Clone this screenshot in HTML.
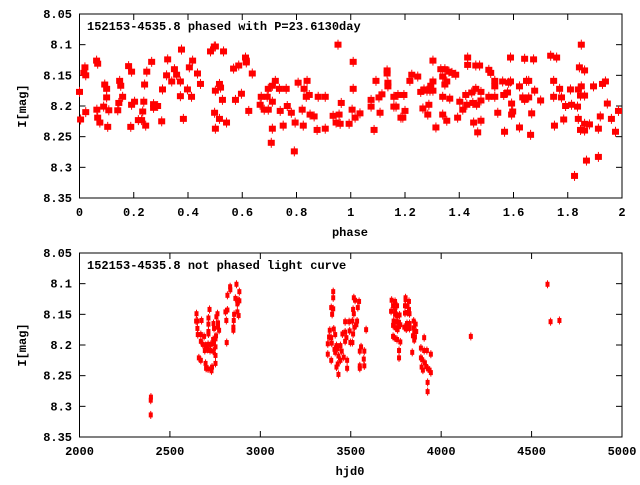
<!DOCTYPE html>
<html><head><meta charset="utf-8"><style>
body{margin:0;background:#fff}
svg text{font-family:"Liberation Mono","DejaVu Sans Mono",monospace;font-weight:bold;font-size:12px;fill:#000}
</style></head><body>
<svg id="chart" width="640" height="480" viewBox="0 0 640 480" xmlns="http://www.w3.org/2000/svg">
<rect width="640" height="480" fill="#fff"/>
<g id="top"></g>
<g id="bot"></g>
</svg>
<script>
const phaseX=[0,0.004,0.016,0.02,0.023,0.023,0.063,0.067,0.067,0.075,0.064,0.093,0.1,0.1,0.089,0.108,0.104,0.141,0.145,0.148,0.152,0.159,0.181,0.192,0.192,0.203,0.189,0.217,0.229,0.233,0.237,0.244,0.24,0.248,0.266,0.273,0.273,0.288,0.303,0.306,0.321,0.325,0.34,0.35,0.358,0.372,0.376,0.372,0.383,0.398,0.413,0.405,0.417,0.435,0.446,0.483,0.497,
0.501,0.531,0.568,0.587,0.612,0.615,0.615,0.637,0.501,0.516,0.52,0.498,0.501,0.516,0.542,0.527,0.575,0.597,0.624,0.666,0.67,0.681,0.696,0.692,0.696,0.711,0.711,0.722,0.711,0.707,0.737,0.762,0.74,0.751,0.766,0.781,0.795,0.792,0.806,0.839,0.828,0.821,0.825,0.836,0.847,0.85,0.865,0.876,0.906,0.88,0.906,0.935,0.957,0.946,0.961,0.965,0.953,0.994,
1.009,1.009,1.005,1.016,1.034,1.075,1.075,1.093,1.108,1.086,1.104,1.115,1.134,1.134,1.137,1.137,1.159,1.174,1.196,1.159,1.167,1.2,1.185,1.192,1.218,1.225,1.247,1.258,1.27,1.281,1.292,1.303,1.295,1.303,1.303,1.288,1.266,1.284,1.314,1.332,1.347,1.362,1.373,1.387,1.339,1.354,1.347,1.339,1.365,1.339,1.354,1.402,1.413,1.394,1.428,1.45,1.464,1.424,1.446,1.461,1.48,1.431,1.431,1.461,1.475,1.48,1.453,1.48,1.468,
1.509,1.516,1.509,1.531,1.531,1.531,1.542,1.567,1.56,1.582,1.589,1.564,1.578,1.593,1.597,1.593,1.589,1.622,1.634,1.641,1.656,1.622,1.641,1.674,1.648,1.656,1.678,1.667,1.663,1.7,1.737,1.759,1.748,1.748,1.77,1.777,1.751,1.785,1.792,1.814,1.836,1.81,1.839,1.85,1.843,1.862,1.85,1.847,1.862,1.839,1.847,1.862,1.862,1.88,1.825,1.869,1.913,1.913,1.92,1.895,1.928,1.939,1.946,1.961,1.976,1.987];
const phaseMag=[8.177,8.222,8.146,8.137,8.15,8.21,8.126,8.131,8.219,8.227,8.206,8.165,8.172,8.186,8.201,8.207,8.234,8.207,8.195,8.159,8.167,8.185,8.135,8.144,8.198,8.193,8.234,8.223,8.223,8.209,8.193,8.232,8.165,8.144,8.128,8.197,8.203,8.2,8.225,8.173,8.15,8.124,8.16,8.14,8.149,8.16,8.108,8.184,8.221,8.173,8.185,8.137,8.126,8.147,8.164,8.111,8.103,
8.103,8.111,8.139,8.134,8.121,8.126,8.129,8.147,8.175,8.164,8.17,8.211,8.237,8.221,8.227,8.19,8.19,8.18,8.208,8.198,8.185,8.206,8.206,8.185,8.172,8.193,8.167,8.159,8.237,8.26,8.172,8.172,8.208,8.232,8.2,8.211,8.227,8.274,8.162,8.159,8.172,8.206,8.232,8.185,8.182,8.214,8.217,8.239,8.237,8.185,8.185,8.216,8.214,8.227,8.229,8.195,8.1,8.229,
8.128,8.172,8.206,8.219,8.212,8.19,8.201,8.159,8.211,8.239,8.186,8.181,8.142,8.147,8.162,8.168,8.185,8.182,8.182,8.201,8.201,8.208,8.219,8.219,8.159,8.149,8.152,8.177,8.173,8.175,8.175,8.175,8.167,8.16,8.126,8.198,8.204,8.214,8.235,8.14,8.14,8.144,8.146,8.149,8.152,8.16,8.165,8.185,8.188,8.214,8.224,8.193,8.206,8.219,8.198,8.195,8.198,8.182,8.178,8.172,8.177,8.121,8.133,8.134,8.134,8.191,8.227,8.224,8.243,
8.141,8.146,8.185,8.185,8.159,8.168,8.211,8.242,8.16,8.162,8.16,8.182,8.178,8.196,8.209,8.214,8.121,8.168,8.186,8.19,8.186,8.235,8.123,8.124,8.159,8.159,8.175,8.212,8.247,8.191,8.118,8.121,8.159,8.185,8.172,8.186,8.232,8.222,8.2,8.198,8.201,8.173,8.173,8.168,8.137,8.142,8.1,8.183,8.183,8.221,8.239,8.24,8.229,8.23,8.314,8.289,8.283,8.237,8.217,8.168,8.164,8.16,8.196,8.221,8.242,8.208];
const hjd=[2395,2394,2394,2647,2645,2652,2675,2652,2654,2671,2689,2713,2719,2713,2713,2713,2671,2682,2697,2711,2726,2744,2693,2708,2722,2739,2752,2752,2660,2671,2697,2700,2711,2730,2733,2752,2741,2744,2755,2752,2739,2757,2763,2766,2766,2772,2807,2818,2812,2814,2818,2833,2834,2868,2884,2862,2877,2884,2873,2873,2855,2880,2853,2851,2851,
3403,3403,3392,3403,3397,3517,3524,3546,3513,3517,3539,3469,3491,3509,3535,3531,3520,3585,3384,3406,3414,3380,3392,3373,3395,3421,3410,3428,3443,3454,3469,3494,3476,3498,3509,3469,3513,3450,3414,3432,3461,3443,3428,3480,3421,3480,3373,3392,3550,3557,3575,3550,3550,3572,3575,3432,
3726,3745,3734,3756,3723,3745,3745,3759,3770,3737,3752,3767,3734,3748,3759,3767,3774,3734,3741,3756,3774,3767,3767,3803,3803,3822,3800,3814,3822,3800,3814,3825,3811,3825,3796,3807,3825,3848,3859,3848,3851,3862,3844,3855,3851,3840,3906,3888,3906,3921,3943,3888,3895,3892,3899,3910,3917,3928,3936,3943,3925,3925,4164,4588,4605,4654];
const hjdMag=[8.285,8.29,8.314,8.149,8.161,8.161,8.16,8.173,8.183,8.183,8.186,8.156,8.142,8.166,8.178,8.182,8.194,8.199,8.201,8.199,8.199,8.198,8.209,8.207,8.209,8.21,8.203,8.217,8.221,8.225,8.23,8.238,8.239,8.242,8.236,8.23,8.165,8.173,8.185,8.19,8.191,8.154,8.149,8.164,8.171,8.176,8.146,8.143,8.16,8.196,8.119,8.105,8.11,8.101,8.113,8.124,8.127,8.128,8.133,8.146,8.15,8.152,8.16,8.171,8.176,
8.113,8.123,8.139,8.141,8.15,8.123,8.127,8.129,8.142,8.149,8.139,8.162,8.162,8.161,8.161,8.167,8.171,8.175,8.176,8.174,8.183,8.187,8.188,8.198,8.197,8.201,8.207,8.206,8.201,8.182,8.179,8.177,8.188,8.196,8.196,8.194,8.182,8.21,8.212,8.218,8.22,8.225,8.231,8.225,8.236,8.238,8.215,8.225,8.21,8.203,8.21,8.234,8.238,8.223,8.234,8.248,
8.127,8.129,8.136,8.136,8.145,8.144,8.15,8.152,8.151,8.161,8.162,8.163,8.168,8.172,8.175,8.17,8.167,8.186,8.188,8.191,8.195,8.209,8.221,8.123,8.126,8.129,8.136,8.137,8.142,8.148,8.147,8.149,8.165,8.165,8.171,8.174,8.173,8.161,8.166,8.172,8.178,8.178,8.185,8.187,8.192,8.212,8.188,8.205,8.209,8.209,8.215,8.221,8.224,8.236,8.241,8.229,8.235,8.239,8.241,8.245,8.261,8.276,8.186,8.101,8.162,8.16];
const yTicks=["8.05","8.1","8.15","8.2","8.25","8.3","8.35"];
const phaseTicks=["0","0.2","0.4","0.6","0.8","1","1.2","1.4","1.6","1.8","2"];
const hjdTicks=["2000","2500","3000","3500","4000","4500","5000"];
const NS='http://www.w3.org/2000/svg';
function mk(tag,attrs,parent,txt){const e=document.createElementNS(NS,tag);for(const k in attrs)e.setAttribute(k,attrs[k]);if(txt!==undefined)e.textContent=txt;parent.appendChild(e);return e;}
const L=79.5,R=622;
function panel(g,top,bottom,xmin,xmax,xt,xs,ys,title,xlabel,big){
  const sx=v=>L+(v-xmin)/(xmax-xmin)*(R-L);
  const sy=v=>top+(v-8.05)/0.3*(bottom-top);
  const fr=mk('rect',{x:L,y:top,width:R-L,height:bottom-top,fill:'none',stroke:'#000','stroke-width':1},g);
  
  
  yTicks.forEach(t=>{const y=sy(parseFloat(t));
    mk('line',{x1:L,x2:L+6,y1:y,y2:y,stroke:'#000'},g);mk('line',{x1:R,x2:R-6,y1:y,y2:y,stroke:'#000'},g);
    const tx=mk('text',{x:72,y:y+4,'text-anchor':'end'},g,t);
    
    });
  xt.forEach(t=>{const x=sx(parseFloat(t));
    mk('line',{x1:x,x2:x,y1:bottom,y2:bottom-6,stroke:'#000'},g);mk('line',{x1:x,x2:x,y1:top,y2:top+6,stroke:'#000'},g);
    const tx=mk('text',{x:x,y:bottom+18,'text-anchor':'middle'},g,t);
    
    });
  const ti=mk('text',{x:87,y:top+16},g,title);
  
  
  const xl=mk('text',{x:350,y:bottom+38,'text-anchor':'middle'},g,xlabel);
  
  
  const cy=(top+bottom)/2;
  const yl=mk('text',{x:26,y:cy,'text-anchor':'middle',transform:'rotate(-90 26 '+cy+')'},g,'I[mag]');
  
  
  for(let i=0;i<xs.length;i++){const x=sx(xs[i]),y=sy(ys[i]);
    const p=mk('g',{},g);
    
    
    if(big){mk('line',{x1:x,x2:x,y1:y-5,y2:y+5,stroke:'#f00'},p);mk('rect',{x:x-3.5,y:y-3,width:7,height:6,fill:'#f00'},p);}
    else{mk('line',{x1:x,x2:x,y1:y-4,y2:y+4,stroke:'#f00'},p);mk('rect',{x:x-2,y:y-2.5,width:4,height:5,fill:'#f00'},p);}
  }
}
panel(document.getElementById('top'),14,198,0,2,phaseTicks,phaseX,phaseMag,'152153-4535.8 phased with P=23.6130day','phase',true);
panel(document.getElementById('bot'),253,437,2000,5000,hjdTicks,hjd,hjdMag,'152153-4535.8 not phased light curve','hjd0',false);
</script>
</body></html>
